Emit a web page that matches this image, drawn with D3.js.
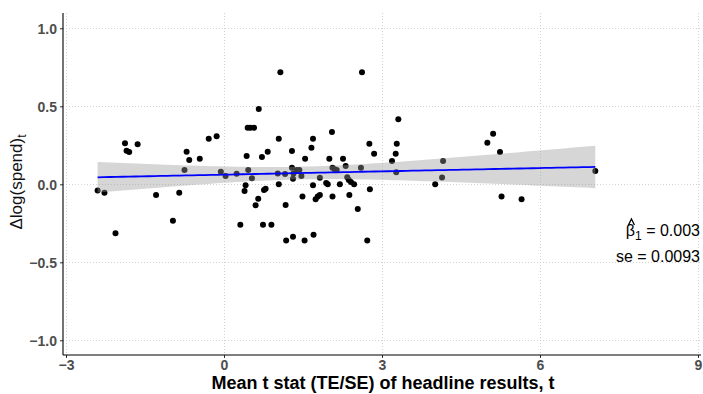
<!DOCTYPE html>
<html>
<head>
<meta charset="utf-8">
<script src="https://cdn.jsdelivr.net/npm/d3@7"></script>
<style>
  html, body { margin: 0; padding: 0; background: #fff; }
  svg { display: block; font-family: "Liberation Sans", Arial, sans-serif; }
</style>
</head>
<body>
<svg id="chart" width="703" height="394"></svg>
<script>
// Mean t statistic of headline results per study (x) and change in log spend (y)
const meanT = [
  -2.40, -2.27, -2.06, -1.88, -1.85, -1.80, -1.64, -1.29, -0.97, -0.85,
  -0.75, -0.71, -0.66, -0.46, -0.29, -0.14, -0.06, 0.03, 0.24, 0.31,
  0.39, 0.41, 0.43, 0.45, 0.50, 0.57, 0.46, 0.53, 0.60, 0.65,
  0.66, 1.07, 2.62, 1.04, 0.72, 0.83, 1.29, 1.54, 1.66, 1.69,
  2.05, 2.00, 2.26, 2.31, 2.60, 2.76, 2.85, 3.19, 3.26, 3.28,
  3.31, 3.27, 0.74, 0.90, 0.76, 0.79, 1.04, 1.02, 1.16, 1.17,
  1.18, 1.31, 1.53, 1.70, 1.29, 1.32, 1.31, 1.38, 1.43, 1.47,
  1.49, 1.69, 1.82, 1.74, 1.78, 1.82, 1.94, 1.97, 2.06, 2.10,
  2.14, 2.06, 2.20, 2.34, 2.37, 2.41, 2.47, 2.38, 2.54, 2.77,
  2.72, 4.16, 4.14, 4.01, 5.00, 5.11, 5.24, 5.27, 5.65, 7.05
];
const dlogSpend = [
  -0.040, -0.054, -0.314, 0.263, 0.215, 0.207, 0.256, -0.069, -0.233, -0.054,
  0.092, 0.209, 0.156, 0.164, 0.292, 0.308, 0.081, 0.053, 0.068, -0.259,
  -0.043, -0.006, 0.181, 0.363, 0.363, 0.363, 0.092, 0.038, -0.135, -0.092,
  0.483, 0.718, 0.718, 0.292, 0.175, 0.209, 0.213, 0.164, 0.235, 0.292,
  0.335, 0.164, 0.164, 0.117, 0.106, 0.260, 0.196, 0.149, 0.196, 0.260,
  0.417, 0.077, -0.259, -0.259, -0.037, -0.028, 0.000, 0.070, 0.066, -0.133,
  -0.361, -0.336, -0.361, -0.323, 0.106, 0.070, 0.036, 0.092, 0.092, 0.053,
  -0.079, -0.006, 0.042, -0.096, -0.079, -0.069, 0.008, 0.000, 0.106, 0.096,
  0.092, -0.079, 0.000, 0.045, 0.028, 0.015, 0.000, -0.069, -0.158, -0.032,
  -0.361, 0.149, 0.043, 0.000, 0.267, 0.324, 0.207, -0.079, -0.096, 0.085
];

const xTicks = [-3, 0, 3, 6, 9];
const yTicks = [-1.0, -0.5, 0.0, 0.5, 1.0];
const xTitle = "Mean t stat (TE/SE) of headline results, t";
const betaText = "0.003";
const seText = "0.0093";

const svg = d3.select("#chart");
const panel = { left: 63, right: 701, top: 13, bottom: 355 };

const x = d3.scaleLinear().domain([-3, 9]).range([66, 698]);
const y = d3.scaleLinear().domain([-1, 1]).range([340.3, 28.3]);

// dotted grid
const grid = svg.append("g").attr("stroke", "#d2d2d2").attr("stroke-width", 1)
  .attr("stroke-dasharray", "1,2").attr("fill", "none");
grid.selectAll(".gx").data(xTicks).join("line")
  .attr("x1", d => Math.round(x(d)) + 0.5).attr("x2", d => Math.round(x(d)) + 0.5)
  .attr("y1", panel.top).attr("y2", panel.bottom);
grid.selectAll(".gy").data(yTicks).join("line")
  .attr("x1", panel.left).attr("x2", panel.right)
  .attr("y1", d => Math.round(y(d)) + 0.5).attr("y2", d => Math.round(y(d)) + 0.5);

// scatter points
const pts = meanT.map((v, i) => ({ x: v, y: dlogSpend[i] }));
svg.append("g").selectAll("circle").data(pts).join("circle")
  .attr("cx", d => x(d.x)).attr("cy", d => y(d.y)).attr("r", 3)
  .attr("fill", "#000");

// OLS fit with 95% confidence band
const n = pts.length;
const mx = d3.mean(pts, d => d.x), my = d3.mean(pts, d => d.y);
const sxx = d3.sum(pts, d => (d.x - mx) ** 2);
const sxy = d3.sum(pts, d => (d.x - mx) * (d.y - my));
const b1 = sxy / sxx, b0 = my - b1 * mx;
const s2 = d3.sum(pts, d => (d.y - b0 - b1 * d.x) ** 2) / (n - 2);
const tq = 1.984;
const [xmin, xmax] = d3.extent(meanT);
const grid80 = d3.range(80).map(i => xmin + (xmax - xmin) * i / 79);
const band = grid80.map(g => {
  const fit = b0 + b1 * g;
  const se = Math.sqrt(s2 * (1 / n + (g - mx) ** 2 / sxx));
  return { x: g, fit, lo: fit - tq * se, hi: fit + tq * se };
});

svg.append("path").datum(band)
  .attr("d", d3.area().x(d => x(d.x)).y0(d => y(d.lo)).y1(d => y(d.hi)))
  .attr("fill", "#999999").attr("fill-opacity", 0.4);
svg.append("path").datum(band)
  .attr("d", d3.line().x(d => x(d.x)).y(d => y(d.fit)))
  .attr("fill", "none").attr("stroke", "#0000ff").attr("stroke-width", 1.8);

// axes
const xAxis = svg.append("g").attr("transform", `translate(0,${panel.bottom})`)
  .call(d3.axisBottom(x).tickValues(xTicks).tickSize(3).tickPadding(2).tickFormat(d3.format("d")));
const yAxis = svg.append("g").attr("transform", `translate(${panel.left},0)`)
  .call(d3.axisLeft(y).tickValues(yTicks).tickSize(3).tickPadding(3).tickFormat(d3.format(".1f")));
[xAxis, yAxis].forEach(a => {
  a.select(".domain").remove();
  a.selectAll(".tick line").attr("stroke", "#333");
  a.selectAll(".tick text").attr("fill", "#4d4d4d").attr("font-size", 14)
    .attr("font-weight", "bold").attr("font-family", "Liberation Sans, Arial, sans-serif");
});
xAxis.selectAll(".tick text").attr("dy", "0.68em");
yAxis.selectAll(".tick text").attr("dy", "0.36em");
svg.append("line").attr("x1", panel.left).attr("x2", panel.right)
  .attr("y1", panel.bottom).attr("y2", panel.bottom).attr("stroke", "#000").attr("stroke-width", 1.1);
svg.append("line").attr("x1", panel.left).attr("x2", panel.left)
  .attr("y1", panel.top).attr("y2", panel.bottom).attr("stroke", "#000").attr("stroke-width", 1.1);

// axis titles
svg.append("text").attr("x", 383).attr("y", 389).attr("text-anchor", "middle")
  .attr("font-size", 18).attr("font-weight", "bold").attr("fill", "#000").text(xTitle);

const yt = svg.append("text").attr("transform", "translate(22,182) rotate(-90)")
  .attr("text-anchor", "middle").attr("font-size", 17).attr("fill", "#111");
yt.append("tspan").text("Δlog(spend)");
yt.append("tspan").attr("font-size", 12).attr("dy", 4).text("t");

// coefficient annotation
const ann = svg.append("g").attr("fill", "#000").attr("font-size", 16);
const bl = ann.append("text").attr("x", 700).attr("y", 236).attr("text-anchor", "end");
bl.append("tspan").text("β");
bl.append("tspan").attr("font-size", 12).attr("dy", 4).text("1");
bl.append("tspan").attr("dy", -4).text(" = " + betaText);
ann.append("text").attr("x", 700).attr("y", 262).attr("text-anchor", "end")
  .text("se = " + seText);
// hat accent over beta
const ext = bl.node().getExtentOfChar(0);
const hx = ext.x + ext.width / 2 + 1, hy = ext.y - 1;
ann.append("path")
  .attr("d", `M${hx - 3},${hy + 4}L${hx},${hy - 2}L${hx + 3},${hy + 4}`)
  .attr("fill", "none").attr("stroke", "#000").attr("stroke-width", 1.3);
</script>
</body>
</html>
